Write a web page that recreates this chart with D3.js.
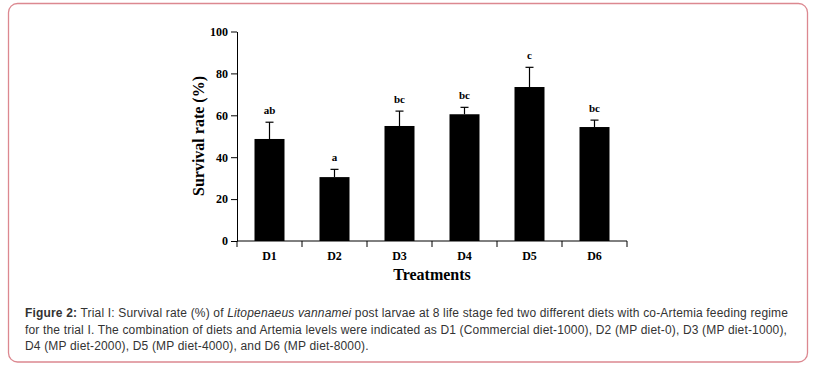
<!DOCTYPE html>
<html>
<head>
<meta charset="utf-8">
<script src="https://cdn.jsdelivr.net/npm/d3@7"></script>
<style>
html,body{margin:0;padding:0;background:#fff;}
svg{display:block;}
</style>
</head>
<body>
<svg id="chart" width="813" height="366"></svg>
<script>
const categories = ["D1","D2","D3","D4","D5","D6"];
const survival = [48.7, 30.5, 54.9, 60.5, 73.5, 54.4];
const errorSD = [8.0, 3.7, 7.1, 3.3, 9.4, 3.3];
const sigLetters = ["ab","a","bc","bc","c","bc"];
const yTicks = [0,20,40,60,80,100];
const captionLines = [
  [{t:"Figure 2:",w:"bold"},{t:" Trial I: Survival rate (%) of "},{t:"Litopenaeus vannamei",s:"italic"},{t:" post larvae at 8 life stage fed two different diets with co-Artemia feeding regime"}],
  [{t:"for the trial I. The combination of diets and Artemia levels were indicated as D1 (Commercial diet-1000), D2 (MP diet-0), D3 (MP diet-1000),"}],
  [{t:"D4 (MP diet-2000), D5 (MP diet-4000), and D6 (MP diet-8000)."}]
];

const svg = d3.select("#chart");

// border
svg.append("rect")
  .attr("x",8.5).attr("y",3.5).attr("width",799).attr("height",358.5)
  .attr("rx",9).attr("ry",9)
  .attr("fill","none").attr("stroke","#dc8890").attr("stroke-width",1.3);

const x0 = 237, x1 = 627, yTop = 31.5, yBot = 241;
const x = d3.scaleBand().domain(categories).range([x0,x1]).paddingInner(0).paddingOuter(0);
const y = d3.scaleLinear().domain([0,100]).range([yBot,yTop]);
const serif = "'Liberation Serif','Times New Roman',serif";

const g = svg.append("g");

// bars
const barW = 30;
g.selectAll("rect.bar").data(categories).enter().append("rect")
  .attr("class","bar")
  .attr("x",(d)=>x(d)+x.bandwidth()/2-barW/2)
  .attr("y",(d,i)=>y(survival[i]))
  .attr("width",barW)
  .attr("height",(d,i)=>yBot-y(survival[i]))
  .attr("fill","#000");

// error bars (upper only)
const capW = 8;
categories.forEach((d,i)=>{
  const cx = x(d)+x.bandwidth()/2;
  g.append("line").attr("x1",cx).attr("x2",cx)
    .attr("y1",y(survival[i])).attr("y2",y(survival[i]+errorSD[i]))
    .attr("stroke","#000").attr("stroke-width",1.2);
  g.append("line").attr("x1",cx-capW/2).attr("x2",cx+capW/2)
    .attr("y1",y(survival[i]+errorSD[i])).attr("y2",y(survival[i]+errorSD[i]))
    .attr("stroke","#000").attr("stroke-width",1.2);
  g.append("text").attr("x",cx).attr("y",y(survival[i]+errorSD[i])-8)
    .attr("text-anchor","middle")
    .attr("font-family",serif).attr("font-weight","bold").attr("font-size",11)
    .attr("fill","#000").text(sigLetters[i]);
});

// y axis
const yAxis = d3.axisLeft(y).tickValues(yTicks).tickSize(6).tickPadding(3).tickSizeOuter(0);
const ya = g.append("g").attr("transform",`translate(${x0},0)`).call(yAxis);
ya.selectAll("text").attr("font-family",serif).attr("font-weight","bold").attr("font-size",12).attr("fill","#000");
ya.selectAll("line,path").attr("stroke","#000");

// x axis: ticks at band boundaries, labels at centers
const xa = g.append("g").attr("transform",`translate(0,${yBot})`);
xa.append("line").attr("x1",x0).attr("x2",x1).attr("y1",0).attr("y2",0).attr("stroke","#000");
const bounds = categories.map(d=>x(d)).concat([x1]);
xa.selectAll("line.tk").data(bounds).enter().append("line")
  .attr("class","tk").attr("x1",d=>d).attr("x2",d=>d).attr("y1",0).attr("y2",6).attr("stroke","#000");
xa.selectAll("text.lbl").data(categories).enter().append("text")
  .attr("class","lbl")
  .attr("x",d=>x(d)+x.bandwidth()/2).attr("y",18.5)
  .attr("text-anchor","middle")
  .attr("font-family",serif).attr("font-weight","bold").attr("font-size",12).attr("fill","#000")
  .text(d=>d);

// axis titles
svg.append("text").attr("x",432).attr("y",280)
  .attr("text-anchor","middle").attr("font-family",serif).attr("font-weight","bold").attr("font-size",16)
  .text("Treatments");
svg.append("text").attr("transform","translate(203.5,136) rotate(-90)")
  .attr("text-anchor","middle").attr("font-family",serif).attr("font-weight","bold").attr("font-size",16)
  .text("Survival rate (%)");

// caption
captionLines.forEach((line,li)=>{
  const t = svg.append("text").attr("x",25).attr("y",317+li*16.5)
    .attr("font-family","'Liberation Sans',Arial,sans-serif").attr("font-size",12)
    .attr("letter-spacing",0.17).attr("fill","#333");
  line.forEach(seg=>{
    t.append("tspan").attr("font-weight",seg.w||"normal").attr("font-style",seg.s||"normal").text(seg.t);
  });
});
</script>
</body>
</html>
